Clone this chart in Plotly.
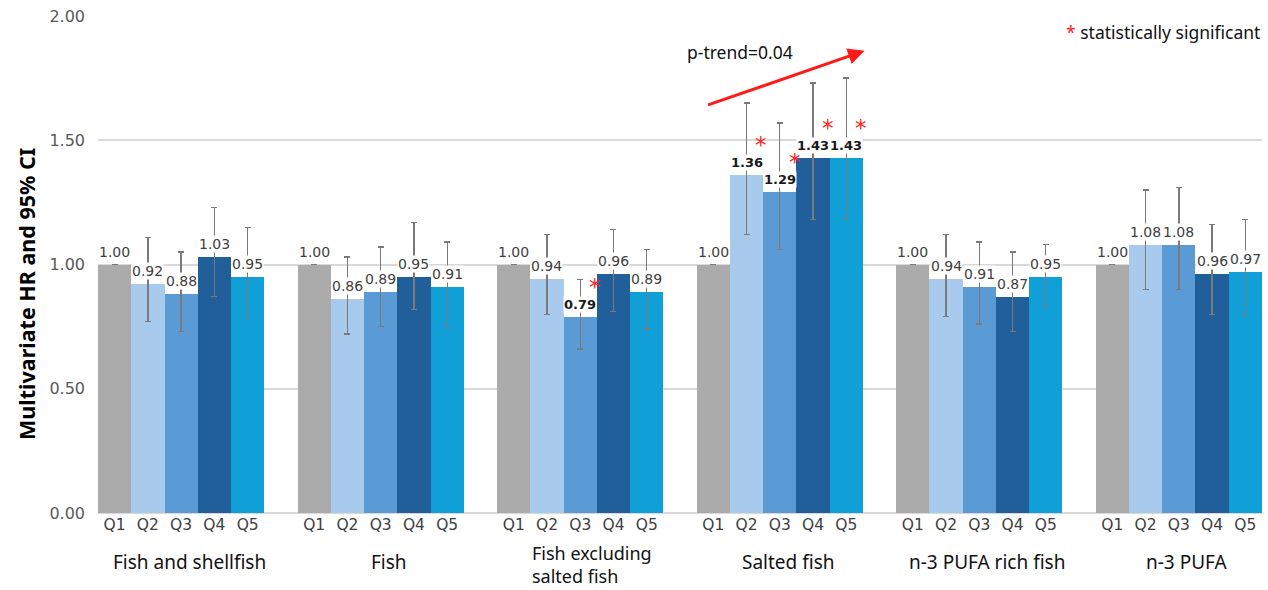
import plotly.graph_objects as go

groups = ["Fish and shellfish", "Fish", "Fish excluding<br>salted fish", "Salted fish",
          "n-3 PUFA rich fish", "n-3 PUFA"]
quintiles = ["Q1", "Q2", "Q3", "Q4", "Q5"]

# HR per group (rows) and quintile (cols)
hr = [
    [1.00, 0.92, 0.88, 1.03, 0.95],
    [1.00, 0.86, 0.89, 0.95, 0.91],
    [1.00, 0.94, 0.79, 0.96, 0.89],
    [1.00, 1.36, 1.29, 1.43, 1.43],
    [1.00, 0.94, 0.91, 0.87, 0.95],
    [1.00, 1.08, 1.08, 0.96, 0.97],
]
ci_low = [
    [1.00, 0.77, 0.73, 0.87, 0.79],
    [1.00, 0.72, 0.75, 0.82, 0.75],
    [1.00, 0.80, 0.66, 0.81, 0.74],
    [1.00, 1.12, 1.06, 1.18, 1.18],
    [1.00, 0.79, 0.76, 0.73, 0.83],
    [1.00, 0.90, 0.90, 0.80, 0.80],
]
ci_high = [
    [1.00, 1.11, 1.05, 1.23, 1.15],
    [1.00, 1.03, 1.07, 1.17, 1.09],
    [1.00, 1.12, 0.94, 1.14, 1.06],
    [1.00, 1.65, 1.57, 1.73, 1.75],
    [1.00, 1.12, 1.09, 1.05, 1.08],
    [1.00, 1.30, 1.31, 1.16, 1.18],
]
significant = [
    [0, 0, 0, 0, 0],
    [0, 0, 0, 0, 0],
    [0, 0, 1, 0, 0],
    [0, 1, 1, 1, 1],
    [0, 0, 0, 0, 0],
    [0, 0, 0, 0, 0],
]
trend_start, trend_end = 1.64, 1.86
colors = ["#ABABAB", "#A8CAEC", "#5B9BD5", "#215F9A", "#10A0D7"]

bar_w = 1 / 6.0
fig = go.Figure()
tickvals, ticktext = [], []
annotations = []
for qi, q in enumerate(quintiles):
    xs = [gi + (qi - 2) * bar_w for gi in range(len(groups))]
    ys = [hr[gi][qi] for gi in range(len(groups))]
    up = [ci_high[gi][qi] - hr[gi][qi] for gi in range(len(groups))]
    dn = [hr[gi][qi] - ci_low[gi][qi] for gi in range(len(groups))]
    fig.add_trace(go.Bar(
        x=xs, y=ys, width=bar_w, marker=dict(color=colors[qi], line=dict(width=0)),
        error_y=dict(type="data", array=up, arrayminus=dn, color="#7A7A7A",
                     thickness=1.3, width=3),
        showlegend=False, hoverinfo="skip"))
    tickvals += xs
    ticktext += [q] * len(xs)
    for gi in range(len(groups)):
        sig = significant[gi][qi]
        annotations.append(dict(
            x=xs[gi], y=ys[gi], xref="x", yref="y", yanchor="bottom", yshift=4,
            text=("<b>%.2f</b>" % ys[gi]) if sig else "%.2f" % ys[gi],
            showarrow=False, bgcolor="white", borderpad=0,
            font=dict(family="DejaVu Sans", size=13 if sig else 14,
                      color="#1a1a1a" if sig else "#404040")))
        if sig:
            annotations.append(dict(
                x=xs[gi] + 0.45 * bar_w, y=ys[gi], xref="x", yref="y",
                yanchor="bottom", yshift=15, text="*", showarrow=False,
                font=dict(family="DejaVu Sans", size=23, color="#FF2020")))

for gi, g in enumerate(groups):
    multi = "<br>" in g
    if not multi:
        annotations.append(dict(
            x=gi, y=0, xref="x", yref="paper", yanchor="middle", yshift=-49,
            xshift=8, text=g, showarrow=False,
            font=dict(family="Noto Sans", size=19, color="#111111")))
    else:
        annotations.append(dict(
            x=gi, y=0, xref="x", yref="paper", yanchor="bottom", yshift=-76,
            xanchor="left", xshift=-49, align="left",
            text=g, showarrow=False, borderpad=0,
            font=dict(family="Noto Sans", size=18, color="#111111")))

# trend arrow for salted fish
annotations.append(dict(
    x=3 + 2.55 * bar_w, y=trend_end, ax=3 - 2.2 * bar_w, ay=trend_start,
    xref="x", yref="y", axref="x", ayref="y",
    showarrow=True, arrowhead=2, arrowsize=1.1, arrowwidth=3, arrowcolor="#FF1A1A",
    text=""))
annotations.append(dict(
    x=3 - 1.2 * bar_w, y=1.855, xref="x", yref="y", yanchor="middle",
    text="p-trend=0.04", showarrow=False,
    font=dict(family="Noto Sans", size=17.5, color="#111111")))
annotations.append(dict(
    x=1, y=1, xref="paper", yref="paper", xanchor="right", yanchor="middle",
    yshift=-16,
    text='<span style="color:#FF1A1A">*</span> statistically significant',
    showarrow=False, font=dict(family="Noto Sans", size=17.5, color="#111111")))
annotations.append(dict(
    x=-0.0755, y=0.44, xref="paper", yref="paper", textangle=-90,
    text="<b>Multivariate HR and 95% CI</b>", showarrow=False,
    font=dict(family="Noto Sans", size=21.5, color="#000000")))

fig.update_layout(
    width=1268, height=590,
    margin=dict(l=98, r=6, t=16, b=77),
    paper_bgcolor="white", plot_bgcolor="white",
    bargap=0, annotations=annotations,
    xaxis=dict(range=[-2.5 * bar_w, len(groups) - 1 + 2.5 * bar_w],
               tickvals=tickvals, ticktext=ticktext, showgrid=False,
               zeroline=False, showline=False, ticks="",
               tickfont=dict(family="DejaVu Sans", size=15.5, color="#404040")),
    yaxis=dict(range=[0, 2], tickvals=[0, 0.5, 1.0, 1.5, 2.0],
               ticktext=["0.00", "0.50", "1.00", "1.50", "2.00"],
               showgrid=True, gridcolor="#D9D9D9", gridwidth=1.5,
               zeroline=True, zerolinecolor="#D9D9D9", zerolinewidth=1.5,
               tickfont=dict(family="DejaVu Sans", size=16, color="#595959"),
               ticks="", ticklen=0, ticklabelstandoff=12),
)
fig.write_html("out.html")
